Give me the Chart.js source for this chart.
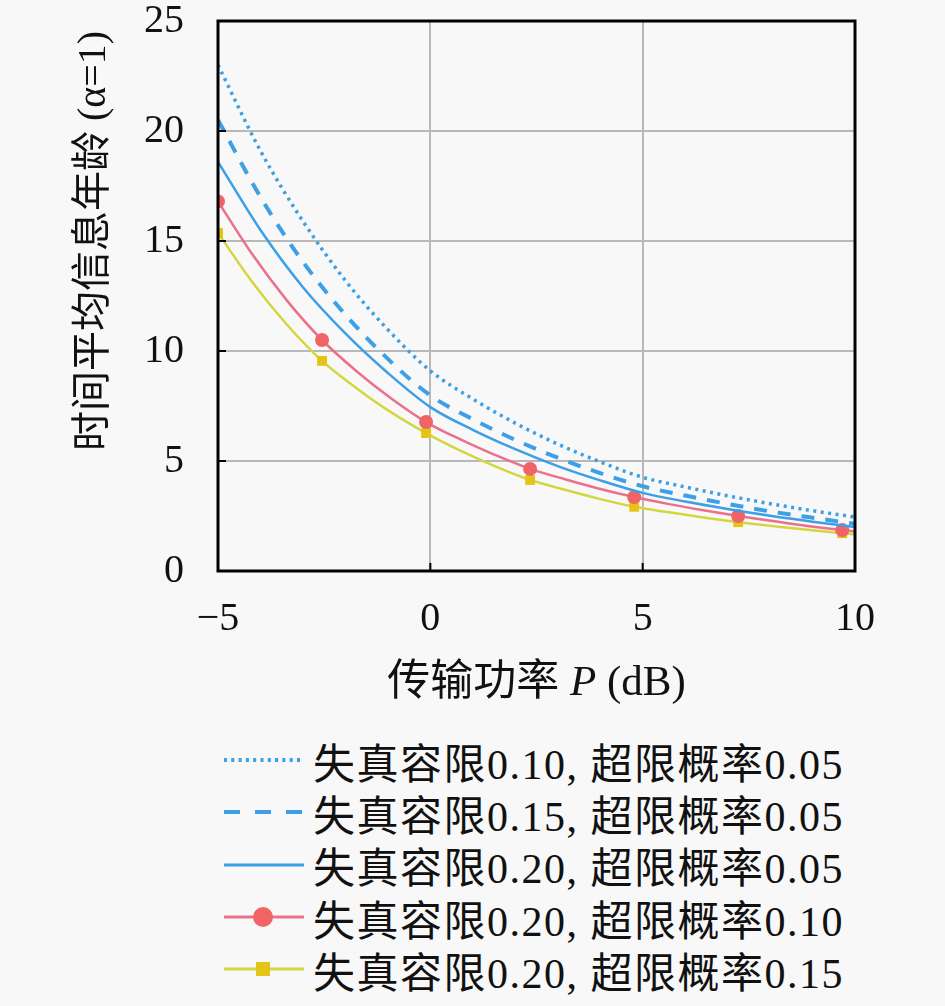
<!DOCTYPE html>
<html lang="zh">
<head>
<meta charset="utf-8">
<title>时间平均信息年龄</title>
<script src="https://cdn.jsdelivr.net/npm/chart.js@4.4.1/dist/chart.umd.min.js"></script>
<style>
	html, body { margin: 0; padding: 0; background: #f8f8f8; }
	#wrap { position: relative; width: 945px; height: 1006px; overflow: hidden; }
	#chartAoi { position: absolute; left: 0; top: 0; }
	#legenda { position: absolute; left: 224px; top: 734px; }
	.item { display: flex; align-items: center; height: 52.3px; }
	.item svg { width: 80px; height: 30px; margin-right: 9px; }
	.item span { font-family: 'Liberation Serif', 'Noto Sans CJK SC', serif; font-size: 42px; letter-spacing: 1.5px; color: #111; white-space: nowrap; }
</style>
</head>
<body>
<div id="wrap">
	<canvas id="chartAoi" width="945" height="730"></canvas>
	<div id="legenda"></div>
</div>
<script>
// Dados
const powerDb = [-5, -4, -3, -2, -1, 0, 1, 2, 3, 4, 5, 6, 7, 8, 9, 10];
const aoiD010P005 = [23.0, 19.1, 15.9, 13.2, 10.97, 9.1, 7.82, 6.72, 5.77, 4.96, 4.26, 3.82, 3.42, 3.06, 2.74, 2.45];
const aoiD015P005 = [20.5, 17.0, 14.05, 11.65, 9.64, 7.98, 6.9, 5.96, 5.15, 4.45, 3.85, 3.43, 3.05, 2.71, 2.42, 2.15];
const aoiD020P005 = [18.6, 15.5, 12.9, 10.8, 9.0, 7.45, 6.42, 5.54, 4.77, 4.12, 3.55, 3.16, 2.82, 2.51, 2.24, 2.0];

const powerDbMarcado = [-5, -4.18, -3.37, -2.55, -1.73, -0.92, -0.1, 0.72, 1.53, 2.35, 3.17, 3.98, 4.8, 5.62, 6.43, 7.25, 8.07, 8.88, 9.7, 10];
const aoiD020P010 = [16.8, 14.36, 12.28, 10.5, 9.07, 7.84, 6.77, 5.97, 5.27, 4.64, 4.17, 3.74, 3.36, 3.04, 2.76, 2.5, 2.27, 2.05, 1.86, 1.8];
const aoiD020P015 = [15.36, 13.1, 11.18, 9.55, 8.3, 7.21, 6.27, 5.46, 4.76, 4.14, 3.69, 3.28, 2.92, 2.67, 2.43, 2.22, 2.04, 1.87, 1.72, 1.67];

const legendLabels = [
	'失真容限0.10, 超限概率0.05',
	'失真容限0.15, 超限概率0.05',
	'失真容限0.20, 超限概率0.05',
	'失真容限0.20, 超限概率0.10',
	'失真容限0.20, 超限概率0.15'
];
const xTicks = [-5, 0, 5, 10];
const yTicks = [0, 5, 10, 15, 20, 25];

const AZUL = '#3d9fe6';
const ROSA = '#ec6f8c';
const ROSA_MARCA = '#f06468';
const AMARELO = '#d4d640';
const AMARELO_MARCA = '#e4c416';
const FONTE = "'Liberation Serif', 'Noto Sans CJK SC', serif";

document.addEventListener('DOMContentLoaded', function () {
	desenharGrafico();
	montarLegenda();
});

function pares(xs, ys) {
	return xs.map(function (x, i) { return { x: x, y: ys[i] }; });
}

function raiosMarca(n, r) {
	// marcador a cada 3 pontos, sem o último (10 dB)
	return Array.from({ length: n }, function (_, i) { return (i % 3 === 0 && i < n - 1) ? r : 0; });
}

// moldura preta, ticks para dentro e títulos dos eixos
const molduraPlugin = {
	id: 'moldura',
	afterDraw: function (chart) {
		const c = chart.ctx;
		const a = chart.chartArea;
		const sx = chart.scales.x;
		const sy = chart.scales.y;
		c.save();
		c.strokeStyle = '#000';
		c.lineWidth = 2;
		xTicks.forEach(function (v) {
			const px = sx.getPixelForValue(v);
			c.beginPath(); c.moveTo(px, a.bottom); c.lineTo(px, a.bottom - 8); c.stroke();
		});
		yTicks.forEach(function (v) {
			const py = sy.getPixelForValue(v);
			c.beginPath(); c.moveTo(a.left, py); c.lineTo(a.left + 8, py); c.stroke();
		});
		c.lineWidth = 3;
		c.strokeRect(a.left, a.top, a.right - a.left, a.bottom - a.top);

		c.fillStyle = '#111';
		c.textBaseline = 'middle';
		// título do eixo x: "传输功率 P (dB)"
		const partes = [
			{ t: '传输功率 ', f: '43px ' + FONTE },
			{ t: 'P', f: 'italic 43px ' + FONTE },
			{ t: ' (dB)', f: '43px ' + FONTE }
		];
		let total = 0;
		partes.forEach(function (p) { c.font = p.f; p.w = c.measureText(p.t).width; total += p.w; });
		let x0 = (a.left + a.right) / 2 - total / 2;
		c.textAlign = 'left';
		partes.forEach(function (p) { c.font = p.f; c.fillText(p.t, x0, 684); x0 += p.w; });

		// título do eixo y
		c.translate(94, 241);
		c.rotate(-Math.PI / 2);
		c.textAlign = 'center';
		c.font = '40px ' + FONTE;
		c.fillText('时间平均信息年龄 (α=1)', 0, 0);
		c.restore();
	}
};

function desenharGrafico() {
	const ctx = document.getElementById('chartAoi');
	if (!ctx) {
		console.error('Canvas não encontrado');
		return;
	}
	const nM = powerDbMarcado.length;

	new Chart(ctx, {
		type: 'line',
		data: {
			datasets: [
				{
					label: legendLabels[0],
					data: pares(powerDb, aoiD010P005),
					borderColor: AZUL,
					borderWidth: 3.5,
					borderDash: [3, 4.5],
					pointRadius: 0
				},
				{
					label: legendLabels[1],
					data: pares(powerDb, aoiD015P005),
					borderColor: AZUL,
					borderWidth: 4,
					borderDash: [13, 11],
					pointRadius: 0
				},
				{
					label: legendLabels[2],
					data: pares(powerDb, aoiD020P005),
					borderColor: AZUL,
					borderWidth: 2.5,
					pointRadius: 0
				},
				{
					label: legendLabels[3],
					data: pares(powerDbMarcado, aoiD020P010),
					borderColor: ROSA,
					borderWidth: 2.5,
					pointRadius: raiosMarca(nM, 7),
					pointStyle: 'circle',
					pointBackgroundColor: ROSA_MARCA,
					pointBorderColor: ROSA_MARCA,
					pointBorderWidth: 0
				},
				{
					label: legendLabels[4],
					data: pares(powerDbMarcado, aoiD020P015),
					borderColor: AMARELO,
					borderWidth: 2.5,
					pointRadius: raiosMarca(nM, 7),
					pointStyle: 'rect',
					pointBackgroundColor: AMARELO_MARCA,
					pointBorderColor: AMARELO_MARCA,
					pointBorderWidth: 0
				}
			]
		},
		options: {
			responsive: false,
			animation: false,
			layout: { padding: { top: 21, right: 90, left: 0, bottom: 0 } },
			elements: { line: { cubicInterpolationMode: 'monotone' } },
			plugins: {
				legend: { display: false },
				tooltip: { enabled: false }
			},
			scales: {
				x: {
					type: 'linear',
					min: -5,
					max: 10,
					afterFit: function (s) { s.height = 730 - 571; },
					afterBuildTicks: function (s) { s.ticks = xTicks.map(function (v) { return { value: v }; }); },
					grid: { color: '#b8b8b8', lineWidth: 2, drawTicks: false },
					border: { display: false },
					ticks: {
						padding: 24,
						color: '#111',
						font: { family: FONTE, size: 40 },
						callback: function (v) { return String(v).replace('-', '−'); }
					}
				},
				y: {
					min: 0,
					max: 25,
					afterFit: function (s) { s.width = 218; s.paddingTop = 0; s.paddingBottom = 0; },
					afterBuildTicks: function (s) { s.ticks = yTicks.map(function (v) { return { value: v }; }); },
					grid: { color: '#b8b8b8', lineWidth: 2, drawTicks: false },
					border: { display: false },
					ticks: {
						padding: 34,
						color: '#111',
						font: { family: FONTE, size: 40 }
					}
				}
			}
		},
		plugins: [molduraPlugin]
	});
}

function montarLegenda() {
	const amostras = [
		'<line x1="0" y1="15" x2="80" y2="15" stroke="' + AZUL + '" stroke-width="4" stroke-dasharray="3 4.3"/>',
		'<line x1="0" y1="15" x2="80" y2="15" stroke="' + AZUL + '" stroke-width="4" stroke-dasharray="16 15"/>',
		'<line x1="0" y1="15" x2="80" y2="15" stroke="' + AZUL + '" stroke-width="3"/>',
		'<line x1="0" y1="15" x2="80" y2="15" stroke="' + ROSA + '" stroke-width="3"/><circle cx="39" cy="15" r="10" fill="' + ROSA_MARCA + '"/>',
		'<line x1="0" y1="15" x2="80" y2="15" stroke="' + AMARELO + '" stroke-width="3"/><rect x="32" y="8" width="14" height="14" fill="' + AMARELO_MARCA + '"/>'
	];
	const legenda = document.getElementById('legenda');
	legenda.innerHTML = legendLabels.map(function (txt, i) {
		return '<div class="item"><svg viewBox="0 0 80 30">' + amostras[i] + '</svg><span>' + txt + '</span></div>';
	}).join('');
}
</script>
</body>
</html>
